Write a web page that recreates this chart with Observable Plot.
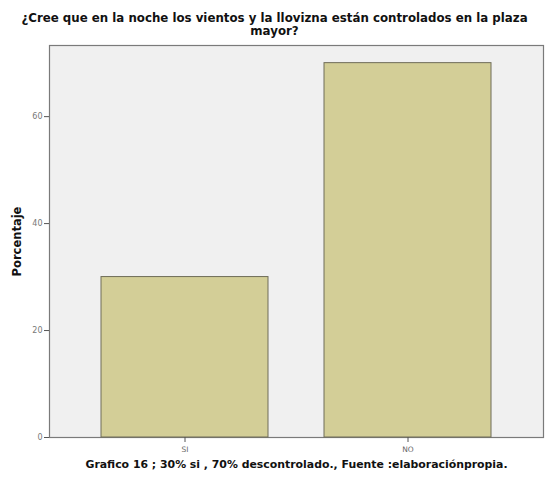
<!DOCTYPE html>
<html>
<head>
<meta charset="utf-8">
<script src="https://cdn.jsdelivr.net/npm/d3@7"></script>
<script src="https://cdn.jsdelivr.net/npm/@observablehq/plot@0.6"></script>
<style>
body { margin: 0; background: #fff; }
svg { display: block; }
</style>
</head>
<body>
<div id="chart"></div>
<script>
const categories = ["SI", "NO"];
const percentages = [30, 70];
const yTicks = [0, 20, 40, 60];
const titleLines = ["¿Cree que en la noche los vientos y la llovizna están controlados en la plaza", "mayor?"];
const yLabel = "Porcentaje";
const caption = "Grafico 16 ; 30% si , 70% descontrolado., Fuente :elaboraciónpropia.";

const data = categories.map((c, i) => ({category: c, value: percentages[i]}));

const chart = Plot.plot({
  width: 545,
  height: 483,
  marginLeft: 49,
  marginRight: 2,
  marginTop: 45,
  marginBottom: 46,
  style: {background: "#fff", fontFamily: "DejaVu Sans, Verdana, sans-serif"},
  x: {domain: categories, paddingInner: 0.25, paddingOuter: 0.23, label: null, axis: null},
  y: {domain: [0, 73.3], label: null, axis: null},
  marks: [
    Plot.frame({fill: "#f0f0f0", stroke: "#7a7a7a", strokeWidth: 1.2}),
    Plot.barY(data, {x: "category", y: "value", fill: "#d3ce97", stroke: "#6e6c58", strokeWidth: 1}),
    Plot.axisY({ticks: yTicks, tickSize: 5, tickPadding: 2, stroke: "#555", fill: "#777", fontSize: 8, label: null}),
    Plot.axisX({tickSize: 5, tickPadding: 4, stroke: "#555", fill: "#666", fontSize: 7.5, label: null}),
    Plot.text([titleLines[0]], {frameAnchor: "top", dx: -22, dy: -32, text: d => d, fontSize: 11.8, fontWeight: "bold", fill: "#111"}),
    Plot.text([titleLines[1]], {frameAnchor: "top", dx: -22, dy: -19, text: d => d, fontSize: 11.8, fontWeight: "bold", fill: "#111"}),
    Plot.text([caption], {frameAnchor: "bottom", dx: 0, dy: 30, text: d => d, fontSize: 10.9, fontWeight: "bold", fill: "#111"}),
    Plot.text([yLabel], {frameAnchor: "left", textAnchor: "middle", dx: -32, dy: 0, rotate: -90, text: d => d, fontSize: 11.5, fontWeight: "bold", fill: "#111"})
  ]
});
document.getElementById("chart").appendChild(chart);
</script>
</body>
</html>
